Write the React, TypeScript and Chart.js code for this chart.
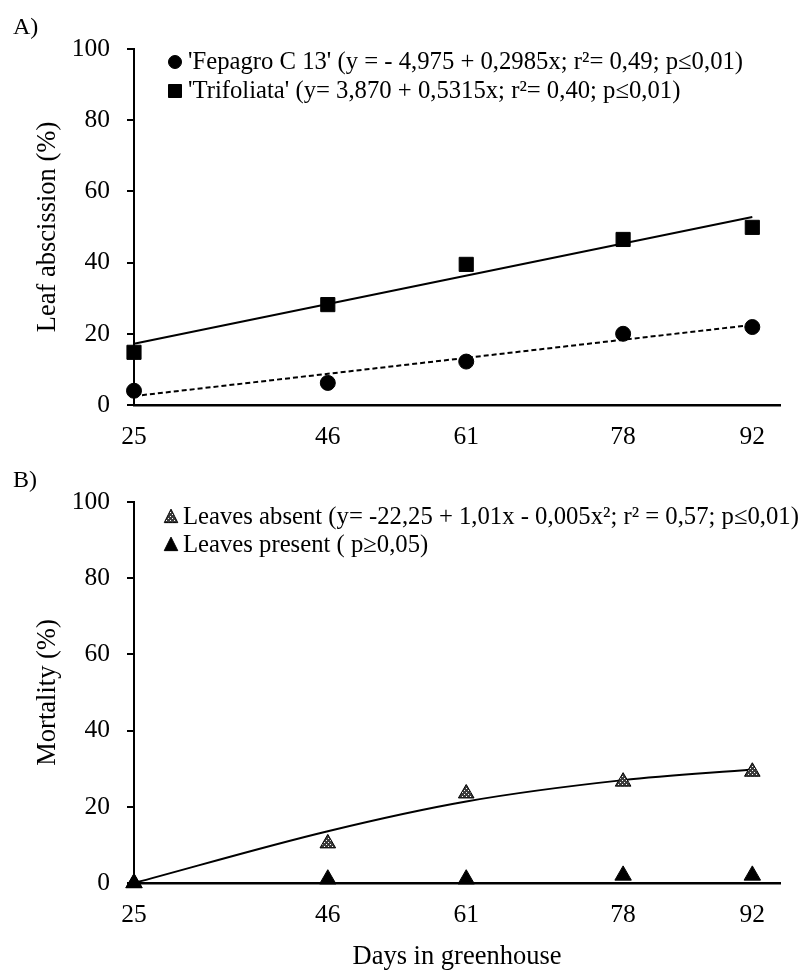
import React, { useEffect, useRef } from 'react';
import { Chart, registerables } from 'chart.js';

Chart.register(...registerables);

// ---------- data ----------
const days = [25, 46, 61, 78, 92];
const xTicks = [25, 46, 61, 78, 92];
const yTicks = [0, 20, 40, 60, 80, 100];

// Panel A – leaf abscission (%)
const fepagro = [4.0, 6.2, 12.2, 20.0, 21.9];
const trifoliata = [14.8, 28.2, 39.5, 46.5, 49.9];
const fitDaysA = [25, 92];
const fepagroFit = [2.5, 22.5];
const trifoliataFit = [17.2, 52.8];

// Panel B – mortality (%)
const leavesAbsent = [0, 10.4, 23.5, 26.6, 29.2];
const leavesPresent = [0, 1.0, 1.0, 2.0, 2.0];
const absentFit = [0, 13.6, 21.4, 27.0, 29.8];

const legendA = [
  "'Fepagro C 13' (y = - 4,975 + 0,2985x; r\u00b2= 0,49; p\u22640,01)",
  "'Trifoliata' (y= 3,870 + 0,5315x; r\u00b2= 0,40; p\u22640,01)",
];
const legendB = [
  'Leaves absent (y= -22,25 + 1,01x - 0,005x\u00b2; r\u00b2 = 0,57; p\u22640,01)',
  'Leaves present ( p\u22650,05)',
];

const FONT = '"Liberation Serif", "Times New Roman", serif';
const FS_TICK = 25.5;
const FS_TITLE = 26.5;
const FS_LEG = 24.7;

const pts = (xs: number[], ys: number[]) => xs.map((x, i) => ({ x, y: ys[i] }));

function makeStipple(): CanvasPattern | string {
  const c = document.createElement('canvas');
  c.width = 4;
  c.height = 4;
  const g = c.getContext('2d');
  if (!g) return '#555';
  g.fillStyle = '#3c3c3c';
  g.fillRect(0, 0, 4, 4);
  g.fillStyle = '#ffffff';
  g.fillRect(0, 0, 1, 1);
  g.fillRect(2, 2, 1, 1);
  const p = g.createPattern(c, 'repeat');
  return p || '#555';
}

function drawMarker(ctx: CanvasRenderingContext2D, shape: string, x: number, y: number, r: number, fill: any) {
  ctx.save();
  ctx.fillStyle = fill;
  ctx.strokeStyle = '#000';
  ctx.lineWidth = 1;
  ctx.beginPath();
  if (shape === 'circle') {
    ctx.arc(x, y, r, 0, Math.PI * 2);
  } else if (shape === 'rect') {
    ctx.rect(x - r, y - r, 2 * r, 2 * r);
  } else {
    ctx.moveTo(x, y - r * 1.05);
    ctx.lineTo(x + r * 0.9, y + r * 0.75);
    ctx.lineTo(x - r * 0.9, y + r * 0.75);
    ctx.closePath();
  }
  ctx.fill();
  ctx.stroke();
  ctx.restore();
}

type LegItem = { text: string; shape: string; r: number; fill: any };

function insideLegend(items: LegItem[], mx: number, tx: number, ys: number[]) {
  return {
    id: 'insideLegend',
    afterDraw(chart: any) {
      const ctx = chart.ctx as CanvasRenderingContext2D;
      ctx.save();
      ctx.font = `${FS_LEG}px ${FONT}`;
      ctx.textBaseline = 'middle';
      ctx.textAlign = 'left';
      items.forEach((it, i) => {
        const y = ys[i];
        drawMarker(ctx, it.shape, mx, y, it.r, it.fill);
        ctx.fillStyle = '#000';
        ctx.fillText(it.text, tx, y + 1);
      });
      ctx.restore();
    },
  };
}

function baseOptions(height: number, top: number, bottom: number, yTitle: string, xTitle?: string) {
  return {
    animation: false as const,
    responsive: false,
    devicePixelRatio: 1,
    layout: { padding: { left: 0, right: 25, top, bottom: 0 } },
    plugins: { legend: { display: false }, tooltip: { enabled: false } },
    scales: {
      x: {
        type: 'linear' as const,
        min: 25,
        max: 95,
        afterBuildTicks: (s: any) => {
          s.ticks = xTicks.map((v) => ({ value: v }));
        },
        afterFit: (s: any) => {
          s.height = height - bottom;
        },
        grid: { display: false, drawTicks: false },
        border: { display: true, color: '#000', width: 2.5 },
        ticks: {
          padding: 17,
          color: '#000',
          autoSkip: false,
          maxRotation: 0,
          font: { family: FONT, size: FS_TICK },
        },
        title: {
          display: !!xTitle,
          text: xTitle || '',
          color: '#000',
          font: { family: FONT, size: FS_TITLE },
          padding: { top: 0, bottom: 1 },
        },
      },
      y: {
        type: 'linear' as const,
        min: 0,
        max: 100,
        afterBuildTicks: (s: any) => {
          s.ticks = yTicks.map((v) => ({ value: v }));
        },
        afterFit: (s: any) => {
          s.width = 134;
        },
        grid: {
          display: true,
          drawOnChartArea: false,
          drawTicks: true,
          tickLength: 7,
          color: '#000',
          lineWidth: 2,
        },
        border: { display: true, color: '#000', width: 2 },
        ticks: { padding: 17, color: '#000', font: { family: FONT, size: FS_TICK } },
        title: {
          display: true,
          text: yTitle,
          color: '#000',
          font: { family: FONT, size: FS_TITLE },
          padding: { top: 32, bottom: 0 },
        },
      },
    },
  };
}

function PanelA() {
  const ref = useRef<HTMLCanvasElement>(null);
  useEffect(() => {
    if (!ref.current) return;
    const H = 460;
    const chart = new Chart(ref.current, {
      type: 'scatter',
      data: {
        datasets: [
          {
            data: pts(fitDaysA, fepagroFit),
            showLine: true,
            borderColor: '#000',
            borderWidth: 2,
            borderDash: [5, 3],
            pointRadius: 0,
            clip: false,
            order: 3,
          },
          {
            data: pts(fitDaysA, trifoliataFit),
            showLine: true,
            borderColor: '#000',
            borderWidth: 2,
            pointRadius: 0,
            clip: false,
            order: 2,
          },
          {
            label: legendA[0],
            data: pts(days, fepagro),
            pointStyle: 'circle',
            pointRadius: 7.5,
            backgroundColor: '#000',
            borderColor: '#000',
            showLine: false,
            clip: false,
            order: 1,
          },
          {
            label: legendA[1],
            data: pts(days, trifoliata),
            pointStyle: 'rect',
            pointRadius: 10,
            backgroundColor: '#000',
            borderColor: '#000',
            showLine: false,
            clip: false,
            order: 0,
          },
        ],
      } as any,
      options: baseOptions(H, 49, 405, 'Leaf abscission (%)') as any,
      plugins: [
        insideLegend(
          [
            { text: legendA[0], shape: 'circle', r: 6.5, fill: '#000' },
            { text: legendA[1], shape: 'rect', r: 6.5, fill: '#000' },
          ],
          175,
          188,
          [62, 91]
        ),
      ],
    });
    return () => chart.destroy();
  }, []);
  return (
    <canvas
      ref={ref}
      width={805}
      height={460}
      style={{ position: 'absolute', left: 0, top: 0, width: 805, height: 460 }}
    />
  );
}

function PanelB() {
  const ref = useRef<HTMLCanvasElement>(null);
  useEffect(() => {
    if (!ref.current) return;
    const H = 524;
    const stipple = makeStipple();
    const chart = new Chart(ref.current, {
      type: 'scatter',
      data: {
        datasets: [
          {
            data: pts(days, absentFit),
            showLine: true,
            borderColor: '#000',
            borderWidth: 2,
            cubicInterpolationMode: 'monotone',
            pointRadius: 0,
            clip: false,
            order: 2,
          },
          {
            label: legendB[0],
            data: pts(days, leavesAbsent),
            pointStyle: 'triangle',
            pointRadius: 9,
            backgroundColor: stipple,
            borderColor: '#000',
            borderWidth: 1,
            showLine: false,
            clip: false,
            order: 1,
          },
          {
            label: legendB[1],
            data: pts(days, leavesPresent),
            pointStyle: 'triangle',
            pointRadius: 9.5,
            backgroundColor: '#000',
            borderColor: '#000',
            showLine: false,
            clip: false,
            order: 0,
          },
        ],
      } as any,
      options: baseOptions(H, 52, 433, 'Mortality (%)', 'Days in greenhouse') as any,
      plugins: [
        insideLegend(
          [
            { text: legendB[0], shape: 'triangle', r: 7.5, fill: stipple },
            { text: legendB[1], shape: 'triangle', r: 7.5, fill: '#000' },
          ],
          171,
          183,
          [67, 95]
        ),
      ],
    });
    return () => chart.destroy();
  }, []);
  return (
    <canvas
      ref={ref}
      width={805}
      height={524}
      style={{ position: 'absolute', left: 0, top: 450, width: 805, height: 524 }}
    />
  );
}

export default function App() {
  const label: React.CSSProperties = {
    position: 'absolute',
    left: 13,
    fontFamily: FONT,
    fontSize: 24,
    color: '#000',
    lineHeight: '28px',
    margin: 0,
  };
  return (
    <div
      style={{
        position: 'absolute',
        left: 0,
        top: 0,
        width: 805,
        height: 974,
        background: '#fff',
        overflow: 'hidden',
      }}
    >
      <PanelA />
      <PanelB />
      <div style={{ ...label, top: 12 }}>A)</div>
      <div style={{ ...label, top: 465 }}>B)</div>
    </div>
  );
}
